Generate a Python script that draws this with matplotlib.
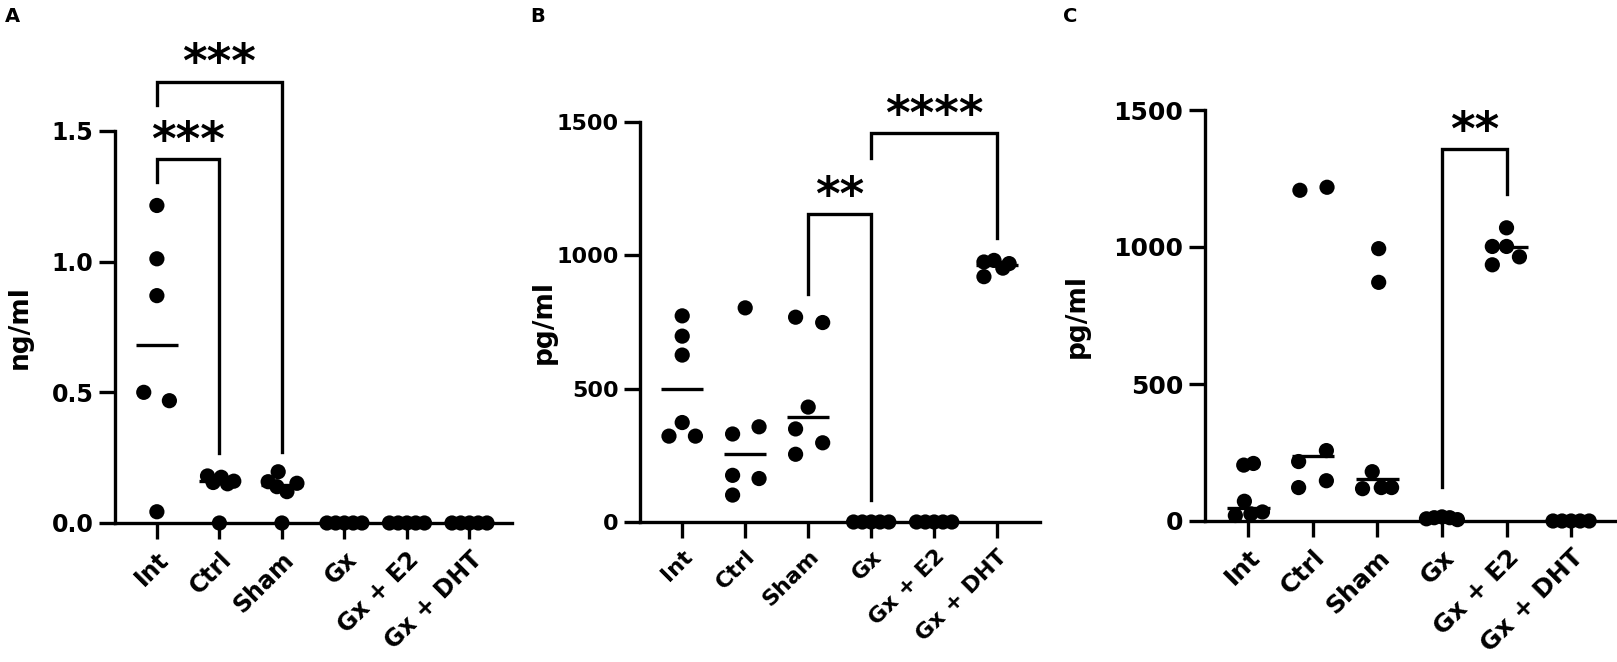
import matplotlib.pyplot as plt
import numpy as np

plt.rcParams['font.family'] = ['DejaVu Sans']
plt.rcParams['font.weight'] = 'bold'

cats = ['Int', 'Ctrl', 'Sham', 'Gx', 'Gx + E2', 'Gx + DHT']

# panel A, ng/ml
a_int = [1.215, 1.011, 0.870, 0.500, 0.468, 0.043]
a_ctrl = [0.180, 0.175, 0.160, 0.155, 0.150, 0.0]
a_sham = [0.196, 0.158, 0.139, 0.120, 0.152, 0.0]
a_gx = [0, 0, 0, 0, 0]
a_e2 = [0, 0, 0, 0, 0]
a_dht = [0, 0, 0, 0, 0]
med_a = [0.68, 0.16, 0.145, 0, 0, 0]

# panel B, pg/ml
b_int = [773, 697, 626, 373, 322, 322]
b_ctrl = [803, 357, 330, 175, 163, 101]
b_sham = [768, 748, 431, 349, 297, 254]
b_gx = [0, 0, 0, 0, 0]
b_e2 = [0, 0, 0, 0, 0]
b_dht = [975, 981, 969, 952, 920]
med_b = [500, 254, 392, 0, 0, 965]

# panel C, pg/ml
c_int = [204, 210, 72, 20, 26, 33]
c_ctrl = [1207, 1218, 217, 257, 122, 147]
c_sham = [994, 871, 180, 118, 122, 122]
c_gx = [8, 12, 15, 12, 5]
c_e2 = [1070, 1002, 1002, 964, 935]
c_dht = [0, 0, 0, 0, 0]
med_c = [49, 237, 154, 12, 999, 0]

# horizontal scatter of the dots inside each column
j5 = [-0.28, -0.14, 0, 0.14, 0.28]
jit_a = [[0, 0, 0, -0.21, 0.2, 0], [-0.19, 0.03, 0.23, -0.1, 0.13, 0],
         [-0.06, -0.22, -0.08, 0.08, 0.24, 0], j5, j5, j5]
jit_b = [[0, 0, 0, 0, -0.21, 0.21], [0, 0.22, -0.2, -0.2, 0.22, -0.2],
         [-0.2, 0.23, 0, -0.2, 0.23, -0.2], j5, j5,
         [-0.21, -0.05, 0.19, 0.09, -0.21]]
jit_c = [[-0.07, 0.08, -0.06, -0.2, 0.04, 0.22], [-0.2, 0.22, -0.22, 0.21, -0.22, 0.21],
         [0.02, 0.02, -0.08, -0.23, 0.06, 0.22], [-0.24, -0.12, 0, 0.12, 0.24],
         [0, -0.22, 0, 0.2, -0.22], j5]

LW = 2.4

fig = plt.figure(figsize=(16.17, 6.62), dpi=100)
H = 662.0
W = 1617.0
TOP = 15


def panel(left, right, y0, ymax_px, ymax, groups, jit, med, yticks, yticklabels,
          ylabel, label_x, fs, brackets):
    ax = fig.add_axes([left / W, (H - y0) / H, (right - left) / W, (y0 - TOP) / H])
    ytop = ymax * (y0 - TOP) / (y0 - ymax_px)
    for i, (vals, dx) in enumerate(zip(groups, jit)):
        ax.scatter(np.full(len(vals), i) + np.array(dx), vals, s=120, color='black',
                   edgecolors='none', zorder=4, clip_on=False)
        ax.plot([i - 0.33, i + 0.33], [med[i], med[i]], color='black', lw=LW,
                zorder=3, clip_on=False, solid_capstyle='butt')
    for x1, x2, yl, yr, yt, stars in brackets:
        ax.plot([x1, x1, x2, x2], [yl, yt, yt, yr], color='black', lw=LW,
                clip_on=False, solid_joinstyle='miter', zorder=2)
        ax.annotate(stars, xy=((x1 + x2) / 2, yt), xytext=(0, 3),
                    textcoords='offset points', ha='center', va='baseline',
                    fontsize=34, fontweight='bold', annotation_clip=False)
    ax.set_xlim(-0.67, 5.68)
    ax.set_ylim(0, ytop)
    ax.spines['top'].set_visible(False)
    ax.spines['right'].set_visible(False)
    ax.spines['left'].set_bounds(0, ymax)
    for s in ('left', 'bottom'):
        ax.spines[s].set_linewidth(LW)
    ax.set_yticks(yticks)
    ax.set_yticklabels(yticklabels, fontsize=fs, fontweight='bold')
    ax.set_xticks(range(len(cats)))
    ax.set_xticklabels(cats, fontsize=fs, fontweight='bold', rotation=45,
                       ha='right', rotation_mode='anchor')
    ax.tick_params(length=11.5, width=LW, pad=4)
    ax.tick_params(axis='x', pad=6)
    ax.set_ylabel(ylabel, fontsize=19, fontweight='bold')
    ax.yaxis.set_label_coords(label_x, (ymax / 2) / ytop)
    ax.patch.set_alpha(0)
    return ax


panel(115, 512, 523, 131, 1.5, [a_int, a_ctrl, a_sham, a_gx, a_e2, a_dht], jit_a, med_a,
      [0, 0.5, 1.0, 1.5], ['0.0', '0.5', '1.0', '1.5'], 'ng/ml', -0.207, 17,
      [(0, 1, 1.303, 0.268, 1.394, '***'), (0, 2, 1.60, 0.273, 1.689, '***')])

panel(640, 1040, 522, 122, 1500, [b_int, b_ctrl, b_sham, b_gx, b_e2, b_dht], jit_b, med_b,
      [0, 500, 1000, 1500], ['0', '500', '1000', '1500'], 'pg/ml', -0.207, 16,
      [(2, 3, 855, 81, 1155, '**'), (3, 5, 1364, 1064, 1459, '****')])

panel(1205, 1615, 521, 110, 1500, [c_int, c_ctrl, c_sham, c_gx, c_e2, c_dht], jit_c, med_c,
      [0, 500, 1000, 1500], ['0', '500', '1000', '1500'], 'pg/ml', -0.28, 18,
      [(3, 4, 123, 1192, 1357, '**')])

for x, letter in [(5, 'A'), (530, 'B'), (1063, 'C')]:
    fig.text(x / W, 1 - 17 / H, letter, fontsize=14, fontweight='bold', va='center')

fig.savefig('out.png', dpi=100)
